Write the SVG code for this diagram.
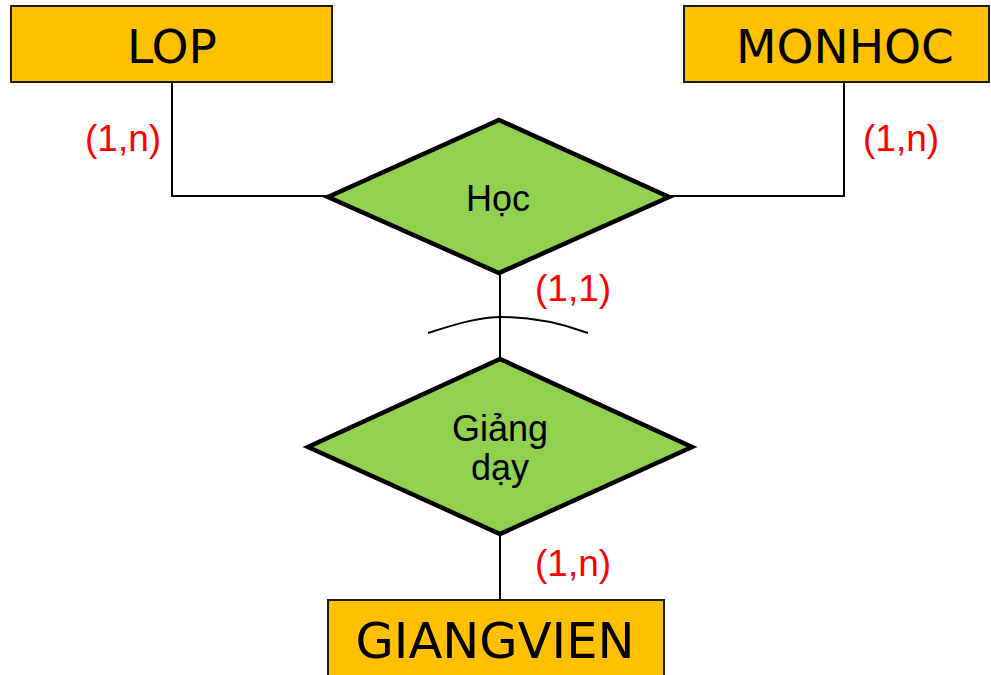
<svg xmlns="http://www.w3.org/2000/svg" width="991" height="675" viewBox="0 0 991 675">
  <style>
    .entity rect { fill: #ffc000; stroke: #1a1a1a; stroke-width: 2; }
    .entity text { font-family: "DejaVu Sans", Verdana, sans-serif; font-size: 47px; fill: #000; text-anchor: middle; }
    .rel polygon { fill: #92d050; stroke: #000; stroke-width: 4.5; stroke-linejoin: miter; }
    .rel text { font-family: "Liberation Sans", Arial, sans-serif; font-size: 36px; fill: #000; text-anchor: middle; }
    .conn { fill: none; stroke: #000; stroke-width: 2; }
    .card { font-family: "Liberation Sans", Arial, sans-serif; font-size: 37px; fill: #ff0000; }
  </style>
  <rect width="991" height="675" fill="#fff"/>

  <g id="connectors">
    <polyline class="conn" points="172,83 172,196 328,196"/>
    <polyline class="conn" points="844,83 844,196 669,196"/>
    <line class="conn" x1="500" y1="273" x2="500" y2="359"/>
    <line class="conn" x1="500" y1="534" x2="500" y2="600"/>
    <path class="conn" d="M428,333 C462,322 482,317 501,317 C524,317 552,320 588,333"/>
  </g>

  <g id="cardinalities">
    <text class="card" x="85" y="151">(1,n)</text>
    <text class="card" x="863" y="151">(1,n)</text>
    <text class="card" x="535" y="301">(1,1)</text>
    <text class="card" x="535" y="576">(1,n)</text>
  </g>

  <g id="LOP" class="entity">
    <rect x="11" y="6" width="321" height="76"/>
    <text x="172" y="63">LOP</text>
  </g>

  <g id="MONHOC" class="entity">
    <rect x="684" y="6" width="305" height="76"/>
    <text x="845" y="63">MONHOC</text>
  </g>

  <g id="GIANGVIEN" class="entity">
    <rect x="328" y="600" width="336" height="80"/>
    <text x="495" y="658" style="font-size:49.5px">GIANGVIEN</text>
  </g>

  <g id="Hoc" class="rel">
    <polygon points="499,120 669,197 499,273 328,197"/>
    <text x="498" y="211">Học</text>
  </g>

  <g id="GiangDay" class="rel">
    <polygon points="500,359 692,447 500,534 308,447"/>
    <text x="500" y="441">Giảng</text>
    <text x="500" y="480">dạy</text>
  </g>
</svg>
